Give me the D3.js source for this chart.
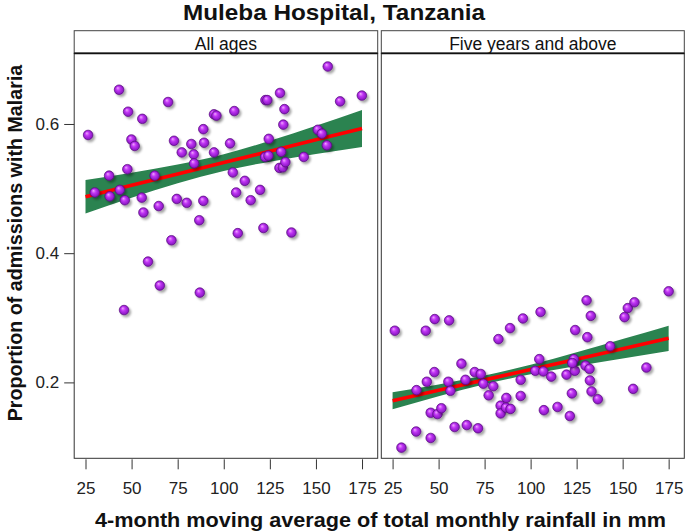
<!DOCTYPE html>
<html><head><meta charset="utf-8">
<script src="https://cdn.jsdelivr.net/npm/d3@7/dist/d3.min.js"></script>
<style>body{margin:0;background:#fff}svg{display:block}text{font-family:"Liberation Sans",Arial,sans-serif}</style>
</head><body>
<script>
const panelLabels = ["All ages", "Five years and above"];
const xTicks = [25, 50, 75, 100, 125, 150, 175];
const yTicks = [0.2, 0.4, 0.6];

const leftX = [43.2,69.8,48.1,55.8,26.4,49.9,51.7,73.0,82.4,89.3,77.2,83.7,94.7,83.9,88.9,94.7,96.0,47.7,37.8,62.5,30.0,43.6,38.1,46.3,55.5,74.5,79.9,88.9,56.4,64.7,86.7,71.6,58.9,65.3,87.0,45.9,156.4,130.5,122.6,123.6,163.1,174.9,105.7,132.9,132.3,103.4,124.4,151.0,153.2,155.9,122.4,124.2,131.1,143.4,130.2,132.0,133.4,104.9,111.4,119.7,106.7,114.6,107.6,121.5,136.7];
const leftY = [0.653,0.634,0.619,0.608,0.583,0.576,0.566,0.574,0.569,0.571,0.556,0.553,0.556,0.539,0.592,0.615,0.613,0.530,0.520,0.520,0.494,0.498,0.488,0.482,0.486,0.484,0.478,0.481,0.463,0.473,0.451,0.420,0.387,0.350,0.339,0.312,0.689,0.648,0.637,0.637,0.635,0.644,0.620,0.623,0.599,0.570,0.577,0.591,0.585,0.567,0.549,0.551,0.557,0.549,0.532,0.533,0.541,0.525,0.512,0.498,0.494,0.482,0.431,0.439,0.432];

const rightX = [26.2,43.0,47.9,55.7,82.5,88.8,95.8,62.4,47.7,43.6,38.0,55.3,56.4,64.6,69.6,72.9,74.3,79.7,77.2,86.8,94.6,94.6,45.7,49.4,51.5,83.7,83.7,86.6,89.1,37.8,45.7,58.7,65.3,71.4,29.8,105.4,130.4,132.7,124.2,130.8,152.8,156.4,151.0,175.0,143.2,104.7,123.5,102.5,106.9,111.2,119.5,124.0,122.6,129.8,132.0,132.2,122.4,133.1,136.5,162.9,155.7,107.2,114.6,121.3];
const rightY = [0.280,0.280,0.298,0.296,0.267,0.284,0.299,0.229,0.216,0.201,0.188,0.201,0.187,0.204,0.216,0.213,0.198,0.194,0.180,0.176,0.179,0.204,0.153,0.151,0.160,0.164,0.152,0.161,0.159,0.124,0.114,0.131,0.134,0.129,0.099,0.309,0.327,0.303,0.281,0.270,0.315,0.324,0.301,0.341,0.256,0.236,0.236,0.218,0.217,0.209,0.212,0.218,0.230,0.226,0.221,0.203,0.183,0.186,0.174,0.223,0.190,0.157,0.162,0.148];

const fitX = [25, 50, 75, 100, 125, 150, 175];
const leftFit   = [0.4875,0.5051,0.5227,0.5402,0.5578,0.5754,0.5930];
const leftLower = [0.4616,0.4857,0.5083,0.5272,0.5417,0.5535,0.5642];
const leftUpper = [0.5134,0.5245,0.5371,0.5532,0.5739,0.5973,0.6218];
const rightFit   = [0.1717,0.1878,0.2039,0.2199,0.2360,0.2521,0.2682];
const rightLower = [0.1586,0.1787,0.1972,0.2125,0.2253,0.2371,0.2486];
const rightUpper = [0.1848,0.1969,0.2106,0.2273,0.2467,0.2671,0.2878];

const W = 685, H = 532;
const svg = d3.select("body").append("svg").attr("width", W).attr("height", H);

const defs = svg.append("defs");
const grad = defs.append("radialGradient").attr("id","ball").attr("cx","50%").attr("cy","50%").attr("r","55%").attr("fx","35%").attr("fy","30%");
grad.append("stop").attr("offset","0%").attr("stop-color","#f2a8ff");
grad.append("stop").attr("offset","40%").attr("stop-color","#c035f4");
grad.append("stop").attr("offset","100%").attr("stop-color","#7a0fb4");
const f = defs.append("filter").attr("id","shadow").attr("x","-50%").attr("y","-50%").attr("width","200%").attr("height","200%");
f.append("feDropShadow").attr("dx",2).attr("dy",2.2).attr("stdDeviation",1.3).attr("flood-color","#000").attr("flood-opacity",0.35);

const stripTop = 30.7, plotTop = 53.3, plotBottom = 458.3;
const panels = [
  {x0: 74.2, x1: 377.7, label: panelLabels[0], xs: leftX, ys: leftY, fit: leftFit, lo: leftLower, hi: leftUpper},
  {x0: 381.3, x1: 684.3, label: panelLabels[1], xs: rightX, ys: rightY, fit: rightFit, lo: rightLower, hi: rightUpper}
];

const y = d3.scaleLinear().domain([0.0825, 0.7094]).range([plotBottom, plotTop]);

panels.forEach((p, i) => {
  const x = d3.scaleLinear().domain([18.87, 183.5]).range([p.x0, p.x1]);
  const g = svg.append("g");
  g.append("rect").attr("x", p.x0).attr("y", stripTop).attr("width", p.x1 - p.x0).attr("height", plotTop - stripTop)
    .attr("fill", "#fff").attr("stroke", "#444").attr("stroke-width", 1);
  g.append("text").attr("x", (p.x0 + p.x1) / 2).attr("y", 49.5).attr("text-anchor", "middle")
    .attr("font-size", "17.5px").attr("fill", "#111").text(p.label);

  const clipId = "clip" + i;
  defs.append("clipPath").attr("id", clipId).append("rect")
    .attr("x", p.x0).attr("y", plotTop).attr("width", p.x1 - p.x0).attr("height", plotBottom - plotTop);
  const inner = g.append("g").attr("clip-path", `url(#${clipId})`);

  const bandData = fitX.map((v, k) => ({x: v, lo: p.lo[k], hi: p.hi[k], fit: p.fit[k]}));
  inner.append("path").datum(bandData)
    .attr("d", d3.area().x(d => x(d.x)).y0(d => y(d.lo)).y1(d => y(d.hi)).curve(d3.curveNatural))
    .attr("fill", "#2b8350");
  inner.append("path").datum(bandData)
    .attr("d", d3.line().x(d => x(d.x)).y(d => y(d.fit)))
    .attr("fill", "none").attr("stroke", "#ff0000").attr("stroke-width", 3.6);

  const pts = p.xs.map((v, k) => [v, p.ys[k]]);
  inner.append("g").selectAll("circle").data(pts).join("circle")
    .attr("cx", d => x(d[0])).attr("cy", d => y(d[1])).attr("r", 4.8)
    .attr("fill", "url(#ball)").attr("stroke", "#5a0c80").attr("stroke-width", 0.7)
    .attr("filter", "url(#shadow)");

  g.append("rect").attr("x", p.x0).attr("y", plotTop).attr("width", p.x1 - p.x0).attr("height", plotBottom - plotTop)
    .attr("fill", "none").attr("stroke", "#333").attr("stroke-width", 1);
  g.append("line").attr("x1", p.x0).attr("x2", p.x1).attr("y1", plotTop).attr("y2", plotTop)
    .attr("stroke", "#111").attr("stroke-width", 1.8);

  const xa = svg.append("g").attr("transform", `translate(0,${plotBottom + 1})`)
    .call(d3.axisBottom(x).tickValues(xTicks).tickSize(10).tickPadding(13));
  xa.select(".domain").remove();
  xa.selectAll(".tick line").attr("stroke", "#333");
  xa.selectAll(".tick text").attr("font-size", "17px").attr("fill", "#222").attr("font-family", '"Liberation Sans",Arial,sans-serif');
});

const ya = svg.append("g").attr("transform", `translate(${panels[0].x0},0)`)
  .call(d3.axisLeft(y).tickValues(yTicks).tickFormat(d3.format(".1f")).tickSize(10).tickPadding(5));
ya.select(".domain").remove();
ya.selectAll(".tick line").attr("stroke", "#333");
ya.selectAll(".tick text").attr("font-size", "17px").attr("fill", "#222").attr("font-family", '"Liberation Sans",Arial,sans-serif');

svg.append("text").attr("x", 334).attr("y", 20).attr("text-anchor", "middle")
  .attr("font-size", "22.5px").attr("font-weight", "bold").attr("fill", "#111")
  .attr("textLength", 302).attr("lengthAdjust", "spacingAndGlyphs")
  .text("Muleba Hospital, Tanzania");
svg.append("text").attr("x", 380.5).attr("y", 527).attr("text-anchor", "middle")
  .attr("font-size", "20px").attr("font-weight", "bold").attr("fill", "#111")
  .attr("textLength", 571).attr("lengthAdjust", "spacingAndGlyphs")
  .text("4-month moving average of total monthly rainfall in mm");
svg.append("text").attr("transform", "translate(21.5,243) rotate(-90)").attr("text-anchor", "middle")
  .attr("font-size", "19.7px").attr("font-weight", "bold").attr("fill", "#111")
  .text("Proportion of admissions with Malaria");
</script>
</body></html>
